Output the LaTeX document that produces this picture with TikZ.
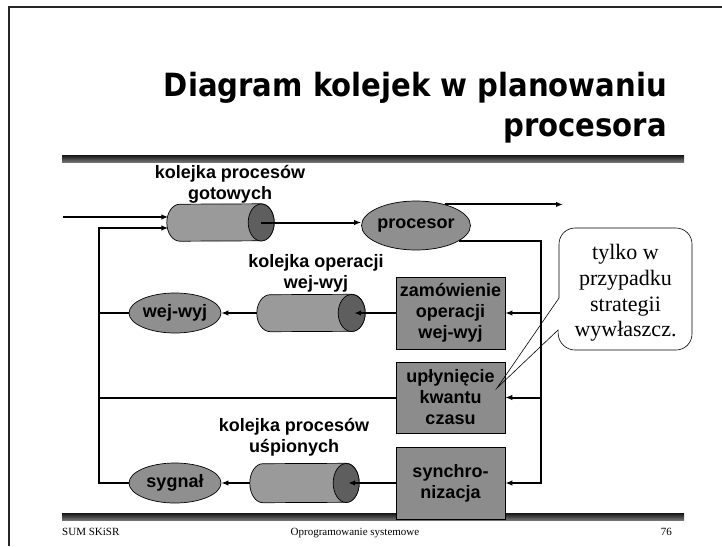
\documentclass[tikz,border=0pt]{standalone}
\usepackage{fontspec}
\setmainfont{Liberation Serif}
\setsansfont{Liberation Sans}
\newfontfamily\titlefont{DejaVu Sans}[FakeStretch=0.91]
\usetikzlibrary{shapes.geometric,arrows.meta,calc}
\definecolor{cylbody}{HTML}{9A9A9A}
\definecolor{cylend}{HTML}{5E5E5E}
\definecolor{ellfill}{HTML}{8F8F8F}
\definecolor{boxfill}{HTML}{8C8C8C}
\newcommand\mycyl[3]{%
  \draw[cylline,fill=cylbody] ($(#1.north east)+(-#2,0)$) arc[start angle=270,end angle=450,x radius=#2,y radius=#3] -- ($(#1.south west)+(#2,0)$) arc[start angle=90,end angle=270,x radius=#2,y radius=#3] -- cycle;
  \draw[cylline,fill=cylend] ($(#1.east)+(-#2,0)$) ellipse[x radius=#2,y radius=#3];}
\begin{document}
\begin{tikzpicture}[x=1pt,y=-1pt,
  lbl/.style={font=\sffamily\bfseries\fontsize{18}{21}\selectfont,align=center,inner sep=0pt},
  ellnode/.style={ellipse,draw=black,line width=0.7pt,fill=ellfill,inner sep=0pt,font=\sffamily\bfseries\fontsize{18}{21}\selectfont},
  boxnode/.style={rectangle,draw=black,line width=0.7pt,fill=boxfill,inner sep=0pt,minimum width=109pt,align=center,font=\sffamily\bfseries\fontsize{18}{21}\selectfont},
  cylbox/.style={rectangle,inner sep=0pt,draw=none},
  cylline/.style={draw=black,line width=0.7pt},
  conn/.style={line width=2pt,line join=miter},
  tipa/.style={-{Latex[length=7pt,width=5.5pt]}},
  foot/.style={font=\fontsize{11}{13}\selectfont,inner sep=0pt},
  ttl/.style={font=\titlefont\bfseries\fontsize{32}{38}\selectfont,inner sep=0pt}
]
\useasboundingbox (0,0) rectangle (722,546);
% frame
\draw[line width=2.5pt,black!85] (9,546) -- (9,7) -- (722,7);
% rules
\shade[top color=black!92,bottom color=black!55] (62,155) rectangle (684,162);
\shade[top color=black!92,bottom color=black!55] (62,513) rectangle (684,520);
% title
\node[ttl,anchor=base east] (t1) at (667,96) {Diagram kolejek w planowaniu};
\node[ttl,anchor=base east] (t2) at (667,136) {procesora};
% footer
\node[foot,anchor=base west] (f1) at (62,535) {SUM SKiSR};
\node[foot,anchor=base] (f2) at (355,535) {Oprogramowanie systemowe};
\node[foot,anchor=base east] (f3) at (672,535) {76};
% labels
\node[lbl] (l1) at (230,184) {kolejka procesów\\gotowych};
\node[lbl] (l2) at (316,273) {kolejka operacji\\wej-wyj};
\node[lbl] (l3) at (294,437) {kolejka procesów\\uśpionych};
% cylinders
\node[cylbox,minimum width=107pt,minimum height=37pt] (c1) at (220.5,222.5) {};
\node[cylbox,minimum width=108pt,minimum height=37pt] (c2) at (311,313) {};
\node[cylbox,minimum width=109pt,minimum height=39pt] (c3) at (304.5,483) {};
\mycyl{c1}{13}{18.5}
\mycyl{c2}{13.5}{18.5}
\mycyl{c3}{13}{19.5}
% ellipses
\node[ellnode,minimum width=88pt,minimum height=49pt] (proc) at (416,225.5) {procesor};
\node[ellnode,minimum width=92pt,minimum height=40pt] (wej) at (175,313) {wej-wyj};
\node[ellnode,minimum width=92pt,minimum height=40pt] (syg) at (175,483) {sygnał};
% boxes
\node[boxnode,minimum height=72pt] (zam) at (450.5,313) {zamówienie\\operacji\\wej-wyj};
\node[boxnode,minimum height=71pt] (upl) at (450.5,397.5) {upłynięcie\\kwantu\\czasu};
\node[boxnode,minimum height=72pt] (syn) at (450.5,483) {synchro-\\nizacja};
% helper coordinates
\coordinate (inS) at (63,217);
\coordinate (fb) at (99,0);
\coordinate (bus) at (541,0);
\coordinate (outE) at (563,0);
\coordinate (c1in1) at ($(c1.west)+(1.5,-5.5)$);
\coordinate (c1in2) at ($(c1.west)+(1.5,5.5)$);
\coordinate (c1cap) at ($(c1.east)+(-13,0)$);
\coordinate (c2cap) at ($(c2.east)+(-11,0)$);
\coordinate (c3cap) at ($(c3.east)+(-11,0)$);
% connectors
\draw[conn,tipa] (inS) -- (inS -| c1in1);
\draw[conn,tipa] (syg.west) -- (fb |- syg.west) -- (fb |- c1in2) -- (c1in2);
\draw[conn] (wej.west) -- (fb |- wej.west);
\draw[conn] (upl.west) -- (fb |- upl.west);
\draw[conn,tipa] (c1cap) -- (c1cap -| proc.west);
\draw[conn,tipa] (proc.36) -- (proc.36 -| outE);
\draw[conn,tipa] (proc.-20) -| (bus |- syn.east) -- (syn.east);
\draw[conn,tipa] (bus |- zam.east) -- (zam.east);
\draw[conn,tipa] (bus |- upl.east) -- (upl.east);
\draw[conn,tipa] (zam.west) -- (c2cap);
\draw[conn,tipa] (c2.west) -- (wej.east);
\draw[conn,tipa] (syn.west) -- (c3cap);
\draw[conn,tipa] (c3.west) -- (syg.east);
% callout
\node[font=\fontsize{22}{25.7}\selectfont,align=center,inner sep=0pt] (callout) at (625.5,293) {tylko w\\przypadku\\strategii\\wywłaszcz.};
\coordinate (cNW) at (559,228);
\coordinate (cSE) at (692,350);
\coordinate (tip) at (497,388);
\draw[line width=0.6pt] (559,298) [sharp corners] -- (tip) -- (558,330) [rounded corners=16pt] -- (cNW |- cSE) -- (cSE) -- (cSE |- cNW) -- (cNW) [sharp corners] -- (559,298);
\end{tikzpicture}
\end{document}
